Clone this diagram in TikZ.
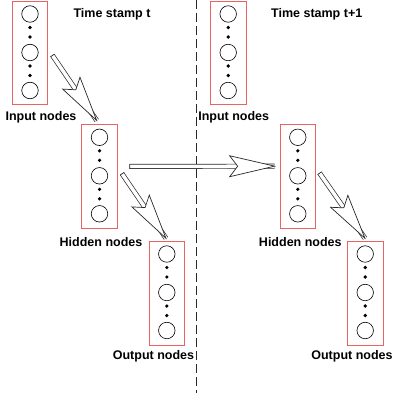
\documentclass[tikz,border=0pt]{standalone}
\usepackage{fontspec}
\setmainfont{Liberation Sans}
\usetikzlibrary{decorations.markings}
\definecolor{boxred}{RGB}{232,100,100}
\definecolor{arrowgray}{RGB}{40,40,40}

\begin{document}
\begin{tikzpicture}[x=1pt,y=-1pt,
    layerbox/.style={draw=boxred, line width=0.8pt, minimum width=35.5pt, minimum height=103.5pt, inner sep=0pt},
    neuron/.style={draw, circle, minimum size=16.5pt, inner sep=0pt, line width=0.6pt},
    lbl/.style={font=\bfseries\fontsize{12.5}{14}\selectfont, inner sep=0pt},
    bigarrow/.style={draw=arrowgray, line width=0.7pt, double=white, double distance=3.5pt,
      postaction={decorate, decoration={markings,
        mark=at position 0 with {\draw[line width=0.7pt, arrowgray] (0,-2.45) -- (0,2.45);},
        mark=at position 1 with {\draw[line width=0.7pt, arrowgray, fill=white, line join=miter]
          (0,0) -- (-45,10.5) -- (-37,0) -- (-45,-10.5) -- cycle;}}}}]
    \useasboundingbox (0,0) rectangle (392,393);

    % time separator
    \draw[arrowgray, line width=0.7pt, dash pattern=on 9pt off 4pt] (196,0) -- (196,393);

    % layers
    \foreach \name/\x/\y in {in1/30/1, hid1/99.5/124.3, out1/166.8/241,
                             in2/228.2/1, hid2/297.8/124.3, out2/365.2/241} {
      \node[layerbox, anchor=north] (\name) at (\x,\y) {};
      \foreach \k/\dy in {a/13, b/51.5, c/89.5}
        \node[neuron] (\name\k) at (\x,{\y+\dy}) {};
      \foreach \dy in {26.5,36,65,74.5}
        \fill (\x,{\y+\dy}) circle (1.8pt);
    }

    \node[lbl] (t1) at (112,14) {Time stamp t};
    \node[lbl] (t2) at (316.7,14) {Time stamp t+1};
    \node[lbl] (in1l) at (41,117) {Input nodes};
    \node[lbl] (in2l) at (233.7,117) {Input nodes};
    \node[lbl] (hid1l) at (101,242) {Hidden nodes};
    \node[lbl] (hid2l) at (300.3,242) {Hidden nodes};
    \node[lbl] (out1l) at (153.5,356) {Output nodes};
    \node[lbl] (out2l) at (352,356) {Output nodes};

    \draw[bigarrow] ([shift={(4.3,2.3)}]in1.east) -- ([shift={(-2.8,-3.8)}]hid1.north);
    \draw[bigarrow] ([shift={(4.4,-2.7)}]hid1.east) -- ([shift={(-0.8,-2.7)}]out1.north);
    \draw[bigarrow] ([shift={(12,-10)}]hid1.east) -- ([shift={(-5,-10.3)}]hid2.west);
    \draw[bigarrow] ([shift={(3.7,-3.3)}]hid2.east) -- ([shift={(-0.2,-2.7)}]out2.north);
\end{tikzpicture}
\end{document}
